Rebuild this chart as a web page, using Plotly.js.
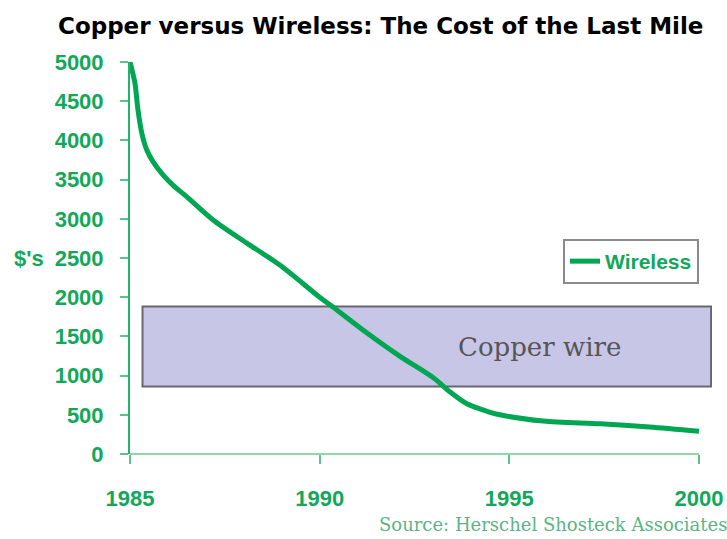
<!DOCTYPE html>
<html>
<head>
<meta charset="utf-8">
<script src="https://cdn.plot.ly/plotly-3.0.1.min.js"></script>
<style>html,body{margin:0;padding:0;background:#fff;}#chart{width:727px;height:539px;}</style>
</head>
<body>
<div id="chart"></div>
<script>
// Wireless cost per line ($)
const years = [1985, 1985.13, 1985.21, 1985.31, 1985.44, 1985.61, 1985.87, 1986.13, 1986.5, 1987.19, 1988.08, 1988.95, 1990.0, 1990.35, 1991.25, 1992.12, 1992.99, 1993.44, 1993.88, 1994.41, 1994.75, 1995.9, 1997.4, 1998.7, 2000];
const wireless = [5000, 4730, 4390, 4095, 3880, 3725, 3560, 3430, 3280, 2985, 2690, 2410, 2000, 1875, 1543, 1245, 975, 790, 640, 545, 500, 420, 385, 345, 290];
// Copper wire cost band
const copperLow = 860;
const copperHigh = 1880;
const copperYears = [1985.33, 2000.32];
const xTicks = [1985, 1990, 1995, 2000];
const yTicks = [0, 500, 1000, 1500, 2000, 2500, 3000, 3500, 4000, 4500, 5000];

const green = '#00a651';
const labelGreen = '#12a85a';
const axisGreen = '#22b46a';

const trace = {
  x: years, y: wireless, type: 'scatter', mode: 'lines', name: 'Wireless',
  line: {color: green, width: 5, shape: 'spline', smoothing: 0.8},
  cliponaxis: false
};

const layout = {
  width: 727, height: 539,
  margin: {l: 130, r: 15, t: 62, b: 85},
  paper_bgcolor: '#fff', plot_bgcolor: '#fff',
  title: {
    text: 'Copper versus Wireless: The Cost of the Last Mile',
    font: {family: 'DejaVu Sans', size: 23, color: '#000', weight: 'bold'},
    xref: 'container', x: 58/727, xanchor: 'left',
    yref: 'container', y: 1 - 26/539, yanchor: 'middle'
  },
  xaxis: {
    range: [1985, 2000.344], tickvals: xTicks, ticktext: xTicks.map(String),
    showgrid: false, zeroline: false, showline: false,
    ticks: 'outside', ticklen: 9, tickwidth: 2, tickcolor: '#5cc48a',
    ticklabelstandoff: 16,
    tickfont: {family: 'Liberation Sans', size: 22, color: labelGreen, weight: 'bold'}
  },
  yaxis: {
    range: [0, 5000], tickvals: yTicks, ticktext: yTicks.map(String),
    showgrid: false, zeroline: false, showline: true, linecolor: axisGreen, linewidth: 2,
    ticks: 'outside', ticklen: 8, tickwidth: 2, tickcolor: '#5cc48a',
    ticklabelstandoff: 12,
    tickfont: {family: 'Liberation Sans', size: 22, color: labelGreen, weight: 'bold'}
  },
  showlegend: true,
  legend: {
    x: (563 - 130) / 582, xanchor: 'left', y: (454 - 239) / 392, yanchor: 'top',
    bgcolor: '#fff', bordercolor: '#8a8a8a', borderwidth: 2,
    font: {family: 'Liberation Sans', size: 21, color: labelGreen, weight: 'bold'},
    itemwidth: 30
  },
  shapes: [
    {type: 'rect', xref: 'x', yref: 'y', x0: copperYears[0], x1: copperYears[1], y0: copperLow, y1: copperHigh,
     fillcolor: '#c8c6e6', line: {color: '#6a6470', width: 2}, layer: 'below'},
    {type: 'line', xref: 'x', yref: 'paper', x0: xTicks[0], x1: xTicks[xTicks.length - 1], y0: 0, y1: 0,
     line: {color: '#8fd8ad', width: 2}, layer: 'below'}
  ],
  annotations: [
    {text: 'Copper wire', xref: 'x', yref: 'y', x: 1995.8, y: (copperLow + copperHigh) / 2,
     showarrow: false, font: {family: 'DejaVu Serif', size: 26, color: '#555'}},
    {text: "$'s", xref: 'paper', yref: 'y', x: (12 - 130) / 582, xanchor: 'left', y: 2500, yanchor: 'middle',
     showarrow: false, font: {family: 'Liberation Sans', size: 22, color: labelGreen, weight: 'bold'}},
    {text: 'Source: Herschel Shosteck Associates', xref: 'paper', yref: 'paper',
     x: (377 - 130) / 582, xanchor: 'left', y: -(524 - 454) / 392, yanchor: 'middle',
     showarrow: false, font: {family: 'DejaVu Serif', size: 18, color: '#5cb486'}}
  ]
};

Plotly.newPlot('chart', [trace], layout, {displayModeBar: false, staticPlot: true});
</script>
</body>
</html>
